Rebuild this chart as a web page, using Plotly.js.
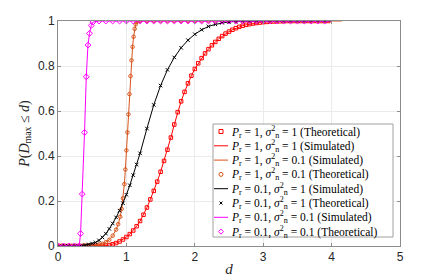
<!DOCTYPE html>
<html>
<head>
<meta charset="utf-8">
<script src="https://cdn.plot.ly/plotly-3.0.1.min.js"></script>
<style>html,body{margin:0;padding:0;background:#fff;}#chart{width:443px;height:278px;}</style>
</head>
<body>
<div id="chart"></div>
<script>
// ---- data ----
// Pr = 1, sigma^2 = 1 (red)
const redD = [0,0.05,0.1,0.15,0.2,0.25,0.3,0.35,0.4,0.45,0.5,0.55,0.6,0.65,0.7,0.75,0.8,0.85,0.9,0.95,1,1.05,1.1,1.15,1.2,1.25,1.3,1.35,1.4,1.45,1.5,1.55,1.6,1.65,1.7,1.75,1.8,1.85,1.9,1.95,2,2.05,2.1,2.15,2.2,2.25,2.3,2.35,2.4,2.45,2.5,2.55,2.6,2.65,2.7,2.75,2.8,2.85,2.9,2.95,3,3.05,3.1,3.15,3.2,3.25,3.3,3.35,3.4,3.45,3.5,3.55,3.6,3.65,3.7,3.75,3.8,3.85,3.9,3.95];
const redP = [0,0,0,0,0,0,0,0,0,0,0,0,0,0.001,0.002,0.004,0.008,0.013,0.020,0.029,0.040,0.053,0.069,0.088,0.111,0.139,0.171,0.207,0.245,0.286,0.330,0.378,0.428,0.482,0.540,0.595,0.643,0.685,0.723,0.757,0.787,0.812,0.835,0.856,0.875,0.892,0.907,0.921,0.933,0.944,0.953,0.961,0.968,0.974,0.979,0.983,0.986,0.989,0.991,0.993,0.995,0.996,0.997,0.998,0.998,0.999,0.999,1,1,1,1,1,1,1,1,1,1,1,1,1];
// Pr = 1, sigma^2 = 0.1 (orange)
const orangeD = [0,0.05,0.1,0.15,0.2,0.25,0.3,0.35,0.4,0.45,0.5,0.55,0.6,0.65,0.7,0.75,0.8,0.85,0.88,0.91,0.93,0.95,0.97,0.985,1.0,1.015,1.03,1.045,1.06,1.075,1.09,1.105,1.12,1.135,1.15,1.17,1.2,1.3,1.4,1.5,1.6,1.7,1.8,1.9,2,2.1,2.2,2.3,2.4,2.5,2.6,2.7,2.8,2.9,3,3.1,3.2,3.3,3.4,3.5,3.6,3.7,3.8,3.9];
const orangeP = [0,0,0,0,0,0,0,0,0.001,0.002,0.003,0.005,0.007,0.010,0.017,0.028,0.046,0.073,0.097,0.130,0.165,0.212,0.275,0.340,0.425,0.505,0.585,0.675,0.755,0.825,0.885,0.930,0.965,0.985,0.995,1,1,1,1,1,1,1,1,1,1,1,1,1,1,1,1,1,1,1,1,1,1,1,1,1,1,1,1,1];
// Pr = 0.1, sigma^2 = 1 (black)
const blackD = [0,0.05,0.1,0.15,0.2,0.25,0.3,0.35,0.4,0.45,0.5,0.55,0.6,0.65,0.7,0.75,0.8,0.85,0.9,0.95,1,1.05,1.1,1.15,1.2,1.3,1.4,1.5,1.6,1.7,1.8,1.9,2,2.1,2.2,2.3,2.4,2.5,2.6,2.7,2.8,2.9,3,3.1,3.2,3.3,3.4,3.5,3.6,3.7,3.8,3.9];
const blackP = [0,0,0,0,0,0,0.001,0.002,0.004,0.007,0.011,0.016,0.025,0.038,0.055,0.076,0.100,0.127,0.157,0.190,0.228,0.270,0.315,0.362,0.412,0.522,0.627,0.713,0.783,0.838,0.881,0.915,0.941,0.961,0.976,0.985,0.992,0.996,0.998,0.999,1,1,1,1,1,1,1,1,1,1,1,1];
// Pr = 0.1, sigma^2 = 0.1 (magenta)
const magentaD = [0,0.08,0.16,0.24,0.31,0.33,0.355,0.388,0.413,0.438,0.461,0.486,0.511,0.6,0.7,0.8,0.9,1,1.1,1.2,1.3,1.4,1.5,1.6,1.7,1.8,1.9,2,2.1,2.2,2.3,2.4,2.5,2.6,2.7,2.8,2.9,3,3.1,3.2,3.3,3.4,3.5,3.6,3.7,3.8,3.9];
const magentaP = [0,0,0,0,0,0.055,0.231,0.505,0.752,0.893,0.945,0.980,0.995,1,1,1,1,1,1,1,1,1,1,1,1,1,1,1,1,1,1,1,1,1,1,1,1,1,1,1,1,1,1,1,1,1,1];
// end of simulated curves (last sample, P = 1)
const simEndRed = 4.0, simEndOrange = 4.15, simEndBlack = 4.0, simEndMagenta = 4.0;

const xTicks = [0,1,2,3,4,5];
const yTicks = [0,0.2,0.4,0.6,0.8,1];
const legendLabels = [
  '<i>P</i><sub>r</sub> = 1, <i>σ</i><sup>2</sup><sub>n</sub> = 1 (Theoretical)',
  '<i>P</i><sub>r</sub> = 1, <i>σ</i><sup>2</sup><sub>n</sub> = 1 (Simulated)',
  '<i>P</i><sub>r</sub> = 1, <i>σ</i><sup>2</sup><sub>n</sub> = 0.1 (Simulated)',
  '<i>P</i><sub>r</sub> = 1, <i>σ</i><sup>2</sup><sub>n</sub> = 0.1 (Theoretical)',
  '<i>P</i><sub>r</sub> = 0.1, <i>σ</i><sup>2</sup><sub>n</sub> = 1 (Simulated)',
  '<i>P</i><sub>r</sub> = 0.1, <i>σ</i><sup>2</sup><sub>n</sub> = 1 (Theoretical)',
  '<i>P</i><sub>r</sub> = 0.1, <i>σ</i><sup>2</sup><sub>n</sub> = 0.1 (Simulated)',
  '<i>P</i><sub>r</sub> = 0.1, <i>σ</i><sup>2</sup><sub>n</sub> = 0.1 (Theoretical)'
];

// ---- styles ----
const RED = '#FF0000', ORANGE = '#D95319', BLACK = '#000000', MAGENTA = '#FF00FF';

function sim(d, p, end, color) {
  return {x: d.concat([end]), y: p.concat([1]), mode: 'lines', type: 'scatter',
    line: {color: color, width: 1}, showlegend: false, hoverinfo: 'skip'};
}
function theo(d, p, symbol, size, color) {
  return {x: d, y: p, mode: 'markers', type: 'scatter',
    marker: {symbol: symbol, size: size, color: color, line: {color: color, width: 1}},
    showlegend: false, hoverinfo: 'skip'};
}

const traces = [
  theo(redD, redP, 'square-open', 3.5, RED),
  sim(redD, redP, simEndRed, RED),
  sim(orangeD, orangeP, simEndOrange, ORANGE),
  theo(orangeD, orangeP, 'circle-open', 3.5, ORANGE),
  sim(blackD, blackP, simEndBlack, BLACK),
  theo(blackD, blackP, 'x-thin-open', 3.5, BLACK),
  sim(magentaD, magentaP, simEndMagenta, MAGENTA),
  theo(magentaD, magentaP, 'diamond-open', 4.5, MAGENTA)
];

// ---- layout geometry (pixels) ----
const W = 443, H = 278, ML = 58, MR = 43, MT = 21, MB = 32;
const PW = W - ML - MR, PH = H - MT - MB;
const px = v => (v - ML) / PW;
const py = v => (H - MB - v) / PH;

const shapes = [];
const annotations = [];
// legend box
shapes.push({type: 'rect', xref: 'paper', yref: 'paper', x0: px(213), x1: px(393), y0: py(237), y1: py(124),
  fillcolor: '#ffffff', line: {color: '#a0a0a0', width: 1}, layer: 'above'});
const kinds = [
  ['marker', 'square', RED], ['line', null, RED], ['line', null, ORANGE], ['marker', 'circle', ORANGE],
  ['line', null, BLACK], ['marker', 'x', BLACK], ['line', null, MAGENTA], ['marker', 'diamond', MAGENTA]
];
kinds.forEach((k, i) => {
  const yc = 131.5 + 14.3 * i;
  if (k[0] === 'line') {
    shapes.push({type: 'line', xref: 'paper', yref: 'paper', x0: px(214), x1: px(228), y0: py(yc), y1: py(yc),
      line: {color: k[2], width: 1}, layer: 'above'});
  } else {
    const base = {xref: 'paper', yref: 'paper', xsizemode: 'pixel', ysizemode: 'pixel',
      xanchor: px(221), yanchor: py(yc), line: {color: k[2], width: 1}, layer: 'above'};
    if (k[1] === 'square') shapes.push(Object.assign({type: 'rect', x0: -2, x1: 2, y0: -2, y1: 2}, base));
    if (k[1] === 'circle') shapes.push(Object.assign({type: 'circle', x0: -2, x1: 2, y0: -2, y1: 2}, base));
    if (k[1] === 'diamond') shapes.push(Object.assign({type: 'path', path: 'M -2.5 0 L 0 2.5 L 2.5 0 L 0 -2.5 Z'}, base));
    if (k[1] === 'x') shapes.push(Object.assign({type: 'path', path: 'M -1.5 -1.5 L 1.5 1.5 M -1.5 1.5 L 1.5 -1.5'}, base));
  }
  annotations.push({xref: 'paper', yref: 'paper', x: px(229), y: py(yc), xanchor: 'left', yanchor: 'middle',
    text: legendLabels[i], showarrow: false, align: 'left',
    font: {family: 'Liberation Serif, DejaVu Serif, serif', size: 11.5, color: '#000'}});
});

const axisCommon = {
  showline: true, linecolor: '#8c8c8c', linewidth: 1, mirror: 'ticks',
  ticks: 'inside', ticklen: 3, tickcolor: '#8c8c8c', tickwidth: 1,
  showgrid: true, gridcolor: '#ebebeb', gridwidth: 1, zeroline: false,
  tickfont: {family: 'Liberation Sans, Arial, sans-serif', size: 12, color: '#262626'},
  automargin: false
};

const layout = {
  width: W, height: H,
  margin: {l: ML, r: MR, t: MT, b: MB, pad: 0},
  paper_bgcolor: '#ffffff', plot_bgcolor: '#ffffff',
  showlegend: false,
  xaxis: Object.assign({}, axisCommon, {range: [0, 5], tickmode: 'array', tickvals: xTicks,
    ticktext: xTicks.map(String),
    title: {text: '<i>d</i>', standoff: 0, font: {family: 'Liberation Serif, DejaVu Serif, serif', size: 15, color: '#262626'}}}),
  yaxis: Object.assign({}, axisCommon, {range: [0, 1], tickmode: 'array', tickvals: yTicks,
    ticktext: yTicks.map(String),
    title: {text: '<i>P</i>(<i>D</i><sub>max</sub> ≤ <i>d</i>)', standoff: 5, font: {family: 'Liberation Serif, DejaVu Serif, serif', size: 14, color: '#262626'}}}),
  shapes: shapes,
  annotations: annotations
};

Plotly.newPlot('chart', traces, layout, {displayModeBar: false, staticPlot: true});
</script>
</body>
</html>
